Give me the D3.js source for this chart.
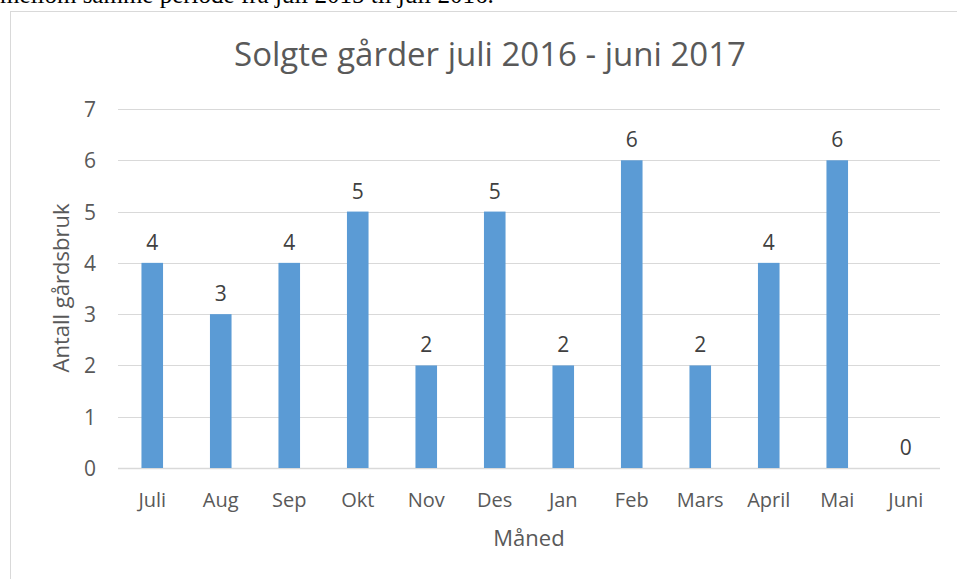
<!DOCTYPE html>
<html lang="no">
<head>
  <meta charset="utf-8">
  <title>Solgte gårder</title>
  <script src="https://cdn.jsdelivr.net/npm/d3@7"></script>
  <style>
    body {
      margin: 0;
      background: #ffffff;
      overflow: hidden;
    }
    svg {
      position: absolute;
      left: 0;
      top: 0;
    }
  </style>
</head>
<body>

  <svg id="chart" width="957" height="579"></svg>

  <script>
    // data
    var months = ['Juli', 'Aug', 'Sep', 'Okt', 'Nov', 'Des', 'Jan', 'Feb', 'Mars', 'April', 'Mai', 'Juni']
    var sold = [4, 3, 4, 5, 2, 5, 2, 6, 2, 4, 6, 0]
    var yTicks = [0, 1, 2, 3, 4, 5, 6, 7]

    var introText = 'mellom samme periode fra juli 2015 til juli 2016.'
    var chartTitle = 'Solgte gårder juli 2016 - juni 2017'
    var xTitle = 'Måned'
    var yTitle = 'Antall gårdsbruk'

    // colours
    var colorBar = '#5b9bd5'
    var colorGrid = '#d9d9d9'
    var colorText = '#595959'

    var font = '"Open Sans", "Noto Sans", sans-serif'

    var svg = d3.select('#chart')

    // the last line of the document text above the chart, cut by the top edge
    svg.append('text')
      .attr('x', 0)
      .attr('y', 3)
      .attr('font-family', '"Liberation Serif", serif')
      .attr('font-size', 25)
      .attr('fill', '#000')
      .text(introText)

    // chart frame (only top and left edge are inside the window)
    svg.append('rect')
      .attr('x', 10.5)
      .attr('y', 11.5)
      .attr('width', 1000)
      .attr('height', 700)
      .attr('fill', 'none')
      .attr('stroke', colorGrid)

    var plot = { left: 118, right: 940, top: 109, bottom: 468 }

    var x = d3.scaleBand()
      .domain(months)
      .range([plot.left, plot.right])
      .paddingInner(0.685)
      .paddingOuter(0.3425)

    var y = d3.scaleLinear()
      .domain([0, 7])
      .range([plot.bottom, plot.top])

    // gridlines
    svg.append('g')
      .selectAll('line')
      .data(yTicks)
      .join('line')
      .attr('x1', plot.left)
      .attr('x2', plot.right)
      .attr('y1', function(d) { return Math.round(y(d)) + 0.5 })
      .attr('y2', function(d) { return Math.round(y(d)) + 0.5 })
      .attr('stroke', colorGrid)
      .attr('stroke-width', function(d) { return d === 0 ? 1.5 : 1 })

    // y tick labels
    svg.append('g')
      .selectAll('text')
      .data(yTicks)
      .join('text')
      .attr('x', 96)
      .attr('y', function(d) { return y(d) + 8 })
      .attr('text-anchor', 'end')
      .attr('font-family', font)
      .attr('font-size', 21)
      .attr('fill', colorText)
      .text(function(d) { return d })

    // bars
    svg.append('g')
      .selectAll('rect')
      .data(sold)
      .join('rect')
      .attr('x', function(d, i) { return x(months[i]) })
      .attr('width', x.bandwidth())
      .attr('y', function(d) { return y(d) })
      .attr('height', function(d) { return y(0) - y(d) })
      .attr('fill', colorBar)

    // value labels
    svg.append('g')
      .selectAll('text')
      .data(sold)
      .join('text')
      .attr('x', function(d, i) { return x(months[i]) + x.bandwidth() / 2 })
      .attr('y', function(d) { return y(d) - 13 })
      .attr('text-anchor', 'middle')
      .attr('font-family', font)
      .attr('font-size', 21)
      .attr('fill', '#404040')
      .text(function(d) { return d })

    // month labels
    svg.append('g')
      .selectAll('text')
      .data(months)
      .join('text')
      .attr('x', function(d) { return x(d) + x.bandwidth() / 2 })
      .attr('y', 507)
      .attr('text-anchor', 'middle')
      .attr('font-family', font)
      .attr('font-size', 20)
      .attr('fill', colorText)
      .text(function(d) { return d })

    // titles
    svg.append('text')
      .attr('x', 490)
      .attr('y', 66)
      .attr('text-anchor', 'middle')
      .attr('font-family', font)
      .attr('font-size', 33)
      .attr('fill', colorText)
      .text(chartTitle)

    svg.append('text')
      .attr('x', (plot.left + plot.right) / 2)
      .attr('y', 546)
      .attr('text-anchor', 'middle')
      .attr('font-family', font)
      .attr('font-size', 22)
      .attr('fill', colorText)
      .text(xTitle)

    svg.append('text')
      .attr('transform', 'translate(69,288) rotate(-90)')
      .attr('text-anchor', 'middle')
      .attr('font-family', font)
      .attr('font-size', 22)
      .attr('fill', colorText)
      .text(yTitle)
  </script>

</body>
</html>
